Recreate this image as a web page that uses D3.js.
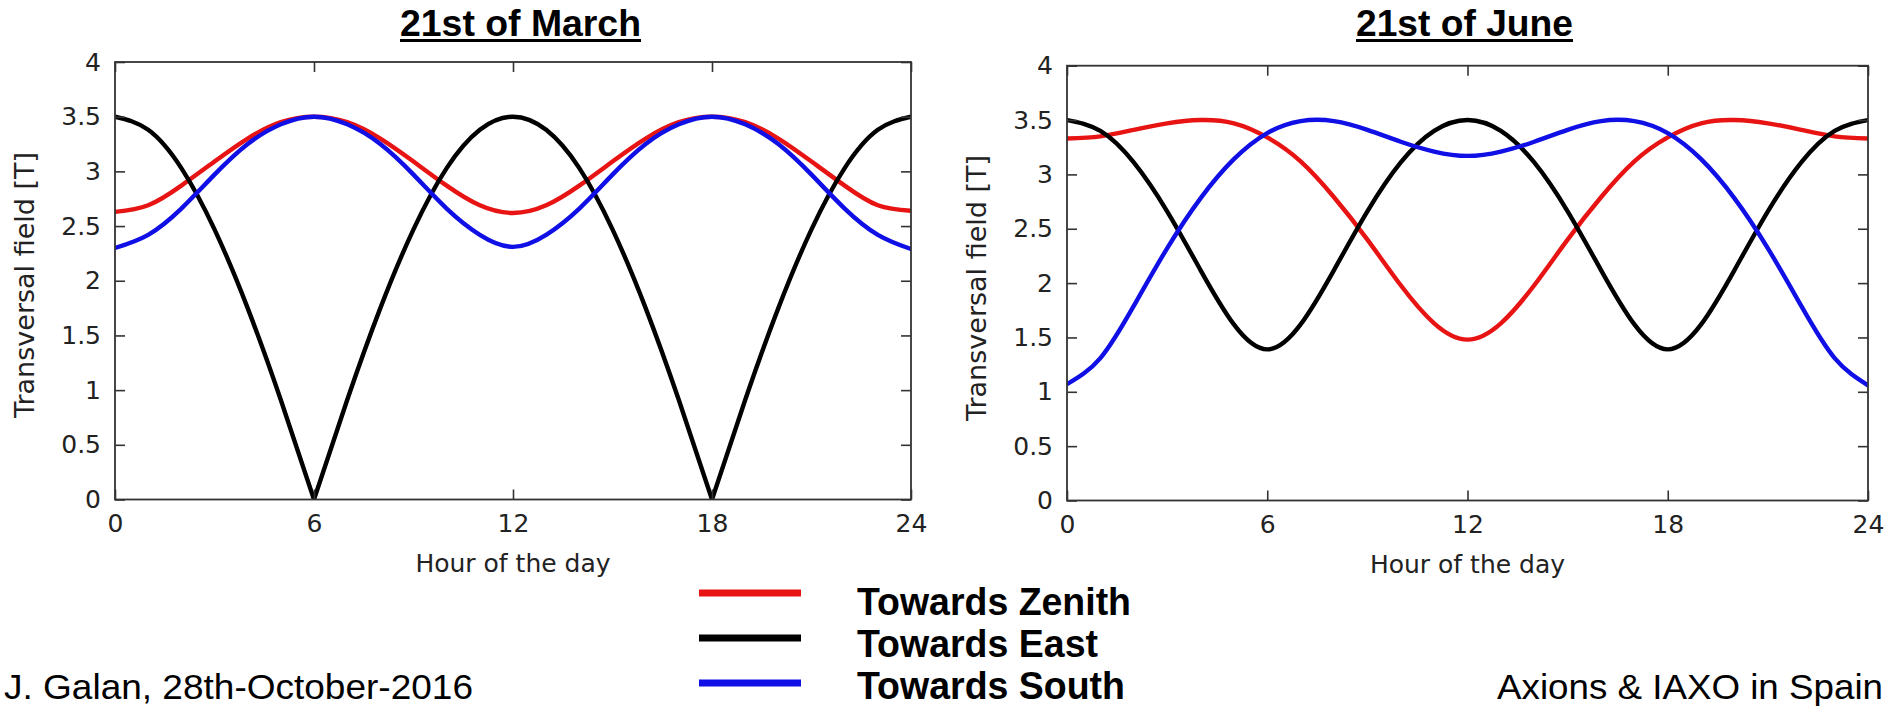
<!DOCTYPE html>
<html><head><meta charset="utf-8">
<script src="https://cdn.jsdelivr.net/npm/d3@7/dist/d3.min.js"></script>
<style>body{margin:0;background:#fff;} svg{display:block}</style>
</head><body>
<script>
// ---------- data ----------
const hours = [0,1,2,3,4,5,6,7,8,9,10,11,12,13,14,15,16,17,18,19,20,21,22,23,24];
const marchZenith = [2.63,2.69,2.87,3.09,3.30,3.45,3.50,3.45,3.30,3.09,2.87,2.69,2.62,2.69,2.87,3.09,3.30,3.45,3.50,3.45,3.30,3.09,2.87,2.69,2.64];
const marchEast   = [3.50,3.38,3.03,2.47,1.75,0.91,0.00,0.91,1.75,2.47,3.03,3.38,3.50,3.38,3.03,2.47,1.75,0.91,0.00,0.91,1.75,2.47,3.03,3.38,3.50];
const marchSouth  = [2.30,2.42,2.66,2.97,3.25,3.43,3.50,3.43,3.25,2.97,2.66,2.42,2.31,2.42,2.66,2.97,3.25,3.43,3.50,3.43,3.25,2.97,2.66,2.42,2.29];
const marchEastCusps = [6,18];
const juneZenith = [3.33,3.35,3.41,3.47,3.50,3.47,3.34,3.12,2.79,2.40,1.98,1.63,1.48,1.63,1.98,2.40,2.79,3.12,3.34,3.47,3.50,3.47,3.41,3.35,3.33];
const juneEast   = [3.50,3.40,3.11,2.66,2.12,1.62,1.39,1.62,2.12,2.66,3.11,3.40,3.50,3.40,3.11,2.66,2.12,1.62,1.39,1.62,2.12,2.66,3.11,3.40,3.50];
const juneSouth  = [1.07,1.31,1.79,2.32,2.78,3.14,3.38,3.49,3.49,3.41,3.30,3.21,3.17,3.21,3.30,3.41,3.49,3.49,3.38,3.14,2.78,2.32,1.79,1.31,1.06];
const xTicks = [0,6,12,18,24];
const yTicks = [0,0.5,1,1.5,2,2.5,3,3.5,4];
const yTickLabels = ["0","0.5","1","1.5","2","2.5","3","3.5","4"];
const panelTitles = ["21st of March","21st of June"];
const seriesNames = ["Towards Zenith","Towards East","Towards South"];
const seriesColors = ["#e81414","#000000","#1010e6"];
const xTitle = "Hour of the day";
const yTitle = "Transversal field [T]";
const footerLeft = "J. Galan, 28th-October-2016";
const footerRight = "Axions & IAXO in Spain";

// ---------- layout ----------
const W = 1891, H = 707;
const svg = d3.select("body").append("svg").attr("width", W).attr("height", H);
svg.append("rect").attr("width", W).attr("height", H).attr("fill", "#fff");

const panels = [
  {x0:115, x1:911, y0:62, y1:499.5, title:panelTitles[0], tx:400, tw:241, ylx:34, yly:285,
   series:[{v:marchZenith},{v:marchEast,cusps:marchEastCusps},{v:marchSouth}]},
  {x0:1067, x1:1868, y0:65.7, y1:500.5, title:panelTitles[1], tx:1356, tw:217, ylx:986, yly:288,
   series:[{v:juneZenith},{v:juneEast},{v:juneSouth}]}
];

const tickFont = "'DejaVu Sans', sans-serif";
const arial = "'Liberation Sans', Arial, sans-serif";
panels.forEach((p, pi) => {
  const x = d3.scaleLinear().domain([0,24]).range([p.x0, p.x1]);
  const y = d3.scaleLinear().domain([0,4]).range([p.y1, p.y0]);
  const g = svg.append("g");
  const clipId = "clip" + pi;
  svg.append("clipPath").attr("id", clipId).append("rect")
    .attr("x", p.x0).attr("y", p.y0 - 4).attr("width", p.x1 - p.x0).attr("height", p.y1 - p.y0 + 4);

  // curves
  const line = d3.line().x(d => x(d[0])).y(d => y(d[1])).curve(d3.curveNatural);
  p.series.forEach((s, si) => {
    const pts = hours.map((h, i) => [h, s.v[i]]);
    const cuts = [0, ...(s.cusps || []), 24];
    for (let k = 0; k < cuts.length - 1; k++) {
      const seg = pts.filter(d => d[0] >= cuts[k] && d[0] <= cuts[k+1]);
      g.append("path").attr("d", line(seg)).attr("fill", "none")
        .attr("stroke", seriesColors[si]).attr("stroke-width", 4.4)
        .attr("stroke-linejoin", "round").attr("stroke-linecap", "round")
        .attr("clip-path", `url(#${clipId})`);
    }
  });

  // axes with inward ticks, mirrored
  const styleAxis = sel => {
    sel.select(".domain").remove();
    sel.selectAll(".tick line").attr("stroke", "#333").attr("stroke-width", 1.6);
    sel.selectAll(".tick text").attr("fill", "#222").style("font-family", tickFont).style("font-size", "25px");
  };
  g.append("g").attr("transform", `translate(0,${p.y1})`)
    .call(d3.axisBottom(x).tickValues(xTicks).tickFormat(d3.format("d")).tickSize(-10).tickPadding(15)).call(styleAxis);
  g.append("g").attr("transform", `translate(0,${p.y0})`)
    .call(d3.axisTop(x).tickValues(xTicks).tickFormat("").tickSize(-10)).call(styleAxis);
  g.append("g").attr("transform", `translate(${p.x0},0)`)
    .call(d3.axisLeft(y).tickValues(yTicks).tickFormat((d,i) => yTickLabels[i]).tickSize(-10).tickPadding(14)).call(styleAxis);
  g.append("g").attr("transform", `translate(${p.x1},0)`)
    .call(d3.axisRight(y).tickValues(yTicks).tickFormat("").tickSize(-10)).call(styleAxis);
  g.selectAll("text").attr("font-family", tickFont);

  // frame
  g.append("rect").attr("x", p.x0).attr("y", p.y0).attr("width", p.x1 - p.x0).attr("height", p.y1 - p.y0)
    .attr("fill", "none").attr("stroke", "#333").attr("stroke-width", 1.8);

  // axis titles
  g.append("text").attr("x", (p.x0 + p.x1) / 2).attr("y", p.y1 + 72).attr("text-anchor", "middle")
    .style("font-family", tickFont).style("font-size", "25px").attr("fill", "#222").text(xTitle);
  g.append("text").attr("transform", `translate(${p.ylx},${p.yly}) rotate(-90)`).attr("text-anchor", "middle")
    .style("font-family", tickFont).style("font-size", "27px").attr("fill", "#222").text(yTitle);

  // panel title (bold, underlined)
  g.append("text").attr("x", p.tx).attr("y", 36).attr("textLength", p.tw).attr("lengthAdjust", "spacingAndGlyphs")
    .style("font-family", arial).style("font-size", "37px").style("font-weight", "bold")
    .attr("fill", "#000").text(p.title);
  g.append("line").attr("x1", p.tx).attr("x2", p.tx + p.tw).attr("y1", 40.5).attr("y2", 40.5)
    .attr("stroke", "#000").attr("stroke-width", 3);
});

// legend
const legY = [593, 638, 683];
const legTextY = [615, 657, 699];
const legTextW = [274, 241, 268];
seriesNames.forEach((n, i) => {
  svg.append("line").attr("x1", 699).attr("x2", 801).attr("y1", legY[i]).attr("y2", legY[i])
    .attr("stroke", seriesColors[i]).attr("stroke-width", 7);
  svg.append("text").attr("x", 857).attr("y", legTextY[i]).attr("textLength", legTextW[i]).attr("lengthAdjust", "spacingAndGlyphs")
    .style("font-family", arial).style("font-size", "38px").style("font-weight", "bold")
    .attr("fill", "#000").text(n);
});

// footers
svg.append("text").attr("x", 4).attr("y", 699).attr("textLength", 469).attr("lengthAdjust", "spacingAndGlyphs")
  .style("font-family", arial).style("font-size", "35px").attr("fill", "#000").text(footerLeft);
svg.append("text").attr("x", 1497).attr("y", 699).attr("textLength", 386).attr("lengthAdjust", "spacingAndGlyphs")
  .style("font-family", arial).style("font-size", "35px").attr("fill", "#000").text(footerRight);
</script>
</body></html>
